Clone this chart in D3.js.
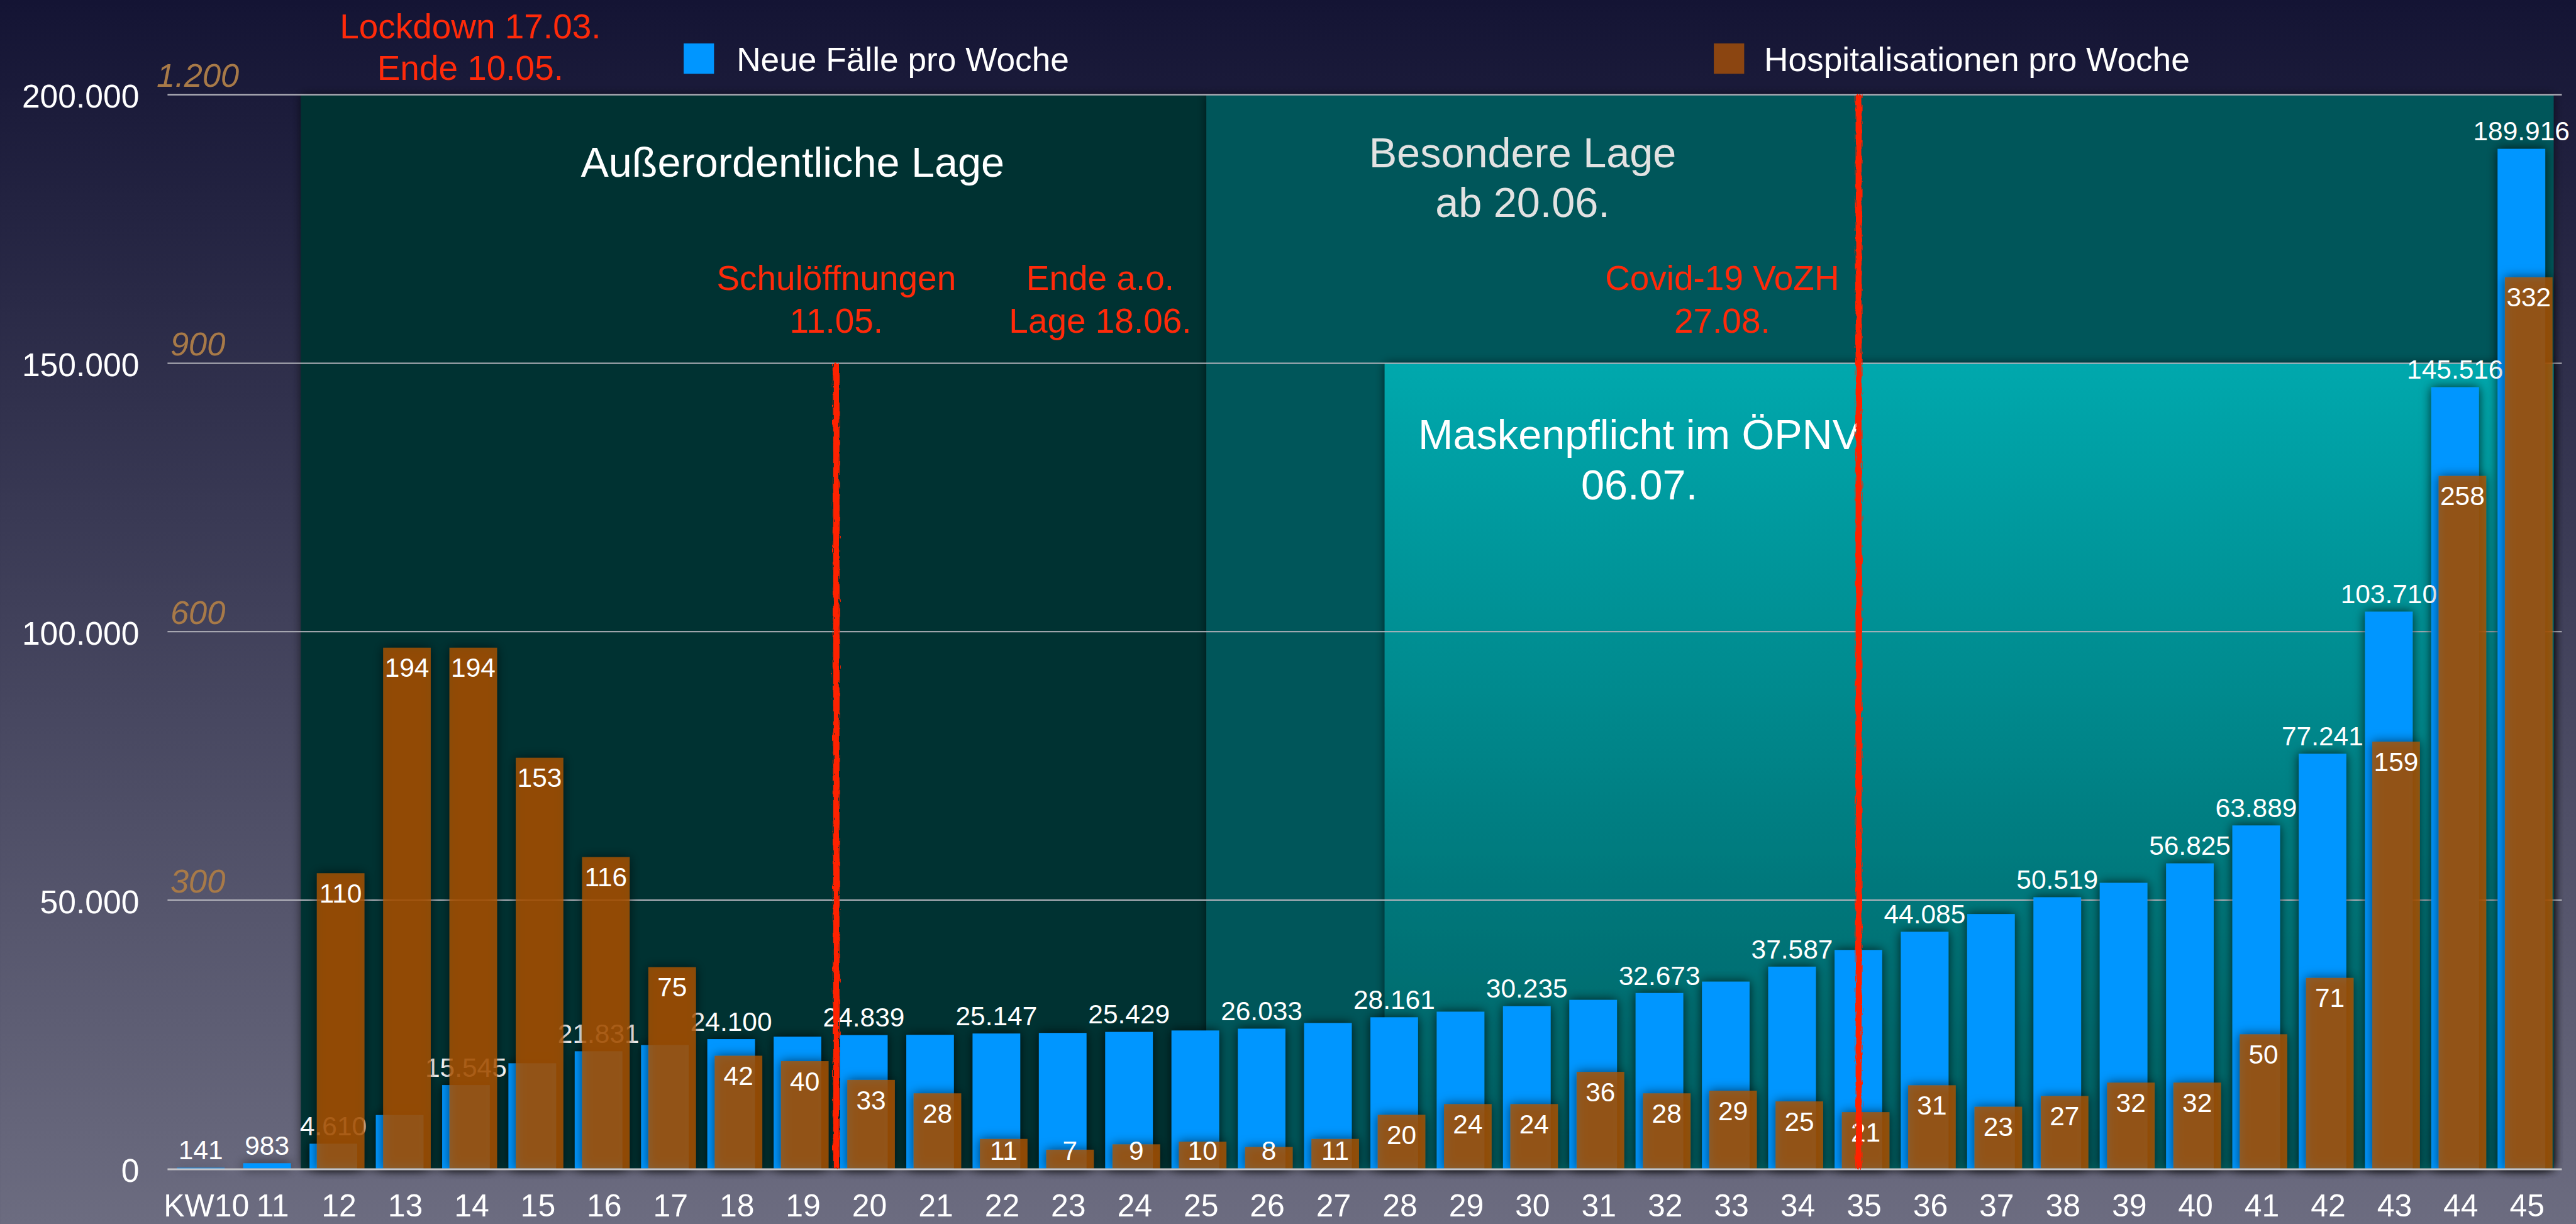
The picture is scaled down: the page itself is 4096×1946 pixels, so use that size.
<!DOCTYPE html>
<html>
<head>
<meta charset="utf-8">
<script src="https://cdn.jsdelivr.net/npm/d3@7"></script>
<style>
  html, body { margin: 0; padding: 0; background: #151535; overflow: hidden; }
  svg { display: block; font-family: "Liberation Sans", Arial, Helvetica, sans-serif; }
</style>
</head>
<body>
<div id="chart"></div>
<script>
// calendar weeks on the x axis
const weeks = ["KW10", "11", "12", "13", "14", "15", "16", "17", "18", "19", "20", "21",
  "22", "23", "24", "25", "26", "27", "28", "29", "30", "31", "32", "33", "34", "35",
  "36", "37", "38", "39", "40", "41", "42", "43", "44", "45"];

const newCases = [141, 983, 4610, 9950, 15545, 19600, 21831, 23000, 24100, 24550, 24839, 24900,
  25147, 25250, 25429, 25700, 26033, 27100, 28161, 29200, 30235, 31400, 32673, 34800, 37587, 40700,
  44085, 47400, 50519, 53200, 56825, 63889, 77241, 103710, 145516, 189916];

// brown series
const hospitalisations = [null, null, 110, 194, 194, 153, 116, 75, 42, 40, 33, 28,
  11, 7, 9, 10, 8, 11, 20, 24, 24, 36, 28, 29, 25, 21,
  31, 23, 27, 32, 32, 50, 71, 159, 258, 332];

// weeks whose blue value is printed
const labelledCaseWeeks = ["KW10", "11", "12", "14", "16", "18", "20", "22", "24", "26", "28",
  "30", "32", "34", "36", "38", "40", "41", "42", "43", "44", "45"];

const caseTicks = [0, 50000, 100000, 150000, 200000];
const hospTickLabels = ["", "300", "600", "900", "1.200"];
const seriesNames = ["Neue Fälle pro Woche", "Hospitalisationen pro Woche"];

const W = 4921, H = 2338;
const BLUE = "#0096ff";
const BROWN = "rgb(172,82,6)";
const BROWN_OP = 0.78;
const RED = "#ff2a0a";

const de = d3.formatLocale({ decimal: ",", thousands: ".", grouping: [3], currency: ["", ""] });
const fmt = de.format(",d");

const svg = d3.select("#chart").append("svg")
  .attr("width", 4096)
  .attr("height", 1946)
  .attr("viewBox", `0 0 ${W} ${H}`);

const defs = svg.append("defs");

const bgGrad = defs.append("linearGradient").attr("id", "bg")
  .attr("x1", 0).attr("y1", 0).attr("x2", 0).attr("y2", 1);
bgGrad.append("stop").attr("offset", "0%").attr("stop-color", "#141434");
bgGrad.append("stop").attr("offset", "100%").attr("stop-color", "#6c6c80");

const maskGrad = defs.append("linearGradient").attr("id", "maskGrad")
  .attr("x1", 0).attr("y1", 0).attr("x2", 0).attr("y2", 1);
maskGrad.append("stop").attr("offset", "0%").attr("stop-color", "#00a8ad");
maskGrad.append("stop").attr("offset", "100%").attr("stop-color", "#005e61");

function shadowFilter(id, blur, opacity) {
  defs.append("filter").attr("id", id)
    .attr("filterUnits", "userSpaceOnUse")
    .attr("x", 0).attr("y", 0).attr("width", W).attr("height", H)
    .append("feDropShadow")
    .attr("dx", 0).attr("dy", 0)
    .attr("stdDeviation", blur)
    .attr("flood-color", "#000")
    .attr("flood-opacity", opacity);
}
shadowFilter("panelShadow", 9, 0.6);
shadowFilter("barShadow", 10, 0.75);

// rough chalk look for the red marker lines
const chalk = defs.append("filter").attr("id", "chalk")
  .attr("filterUnits", "userSpaceOnUse")
  .attr("x", 0).attr("y", 0).attr("width", W).attr("height", H);
chalk.append("feTurbulence")
  .attr("type", "fractalNoise")
  .attr("baseFrequency", "0.6 0.05")
  .attr("numOctaves", 2)
  .attr("result", "noise");
chalk.append("feDisplacementMap")
  .attr("in", "SourceGraphic")
  .attr("in2", "noise")
  .attr("scale", 8)
  .attr("xChannelSelector", "R")
  .attr("yChannelSelector", "G");

svg.append("rect").attr("width", W).attr("height", H).attr("fill", "url(#bg)");

// scales
const x = d3.scaleBand().domain(weeks).range([331, 4891]).padding(0);
const step = x.step();
const pos = (f) => x.range()[0] + f * step;
const y = d3.scaleLinear().domain([0, 200000]).range([2232, 181]);
const yHosp = d3.scaleLinear().domain([0, 400]).range([2232, 181]);

const barW = step * 0.718;
const blueX = (w) => x(w) + step * 0.055;
const brownX = (w) => x(w) + step * 0.165;

// phase panels
const panels = [
  { from: 1.924, to: 15.58, top: 200000, fill: "#003133" },
  { from: 15.58, to: 35.9, top: 200000, fill: "#00565a" },
  { from: 18.27, to: 35.9, top: 150000, fill: "url(#maskGrad)" }
];

svg.append("g").selectAll("rect")
  .data(panels)
  .join("rect")
  .attr("x", (d) => pos(d.from))
  .attr("y", (d) => y(d.top))
  .attr("width", (d) => pos(d.to) - pos(d.from))
  .attr("height", (d) => y(0) - y(d.top))
  .attr("fill", (d) => d.fill)
  .attr("filter", "url(#panelShadow)");

// gridlines
svg.append("g").selectAll("line")
  .data(caseTicks.filter((t) => t > 0))
  .join("line")
  .attr("x1", 320).attr("x2", 4894)
  .attr("y1", (d) => y(d)).attr("y2", (d) => y(d))
  .attr("stroke", "#b4b4bc")
  .attr("stroke-width", 2.5);

// y axis labels
svg.append("g").selectAll("text")
  .data(caseTicks)
  .join("text")
  .attr("x", 266)
  .attr("y", (d) => y(d) + 25)
  .attr("text-anchor", "end")
  .attr("font-size", 62)
  .attr("fill", "#fff")
  .text((d) => fmt(d));

svg.append("g").selectAll("text")
  .data(caseTicks)
  .join("text")
  .attr("x", 378)
  .attr("y", (d) => y(d) - 15)
  .attr("text-anchor", "middle")
  .attr("font-size", 63)
  .attr("font-style", "italic")
  .attr("fill", "#a87a48")
  .text((d, i) => hospTickLabels[i]);

// text annotations for the phases
function multiLine(lines, f, baselines, size, color) {
  const t = svg.append("text")
    .attr("text-anchor", "middle")
    .attr("font-size", size)
    .attr("fill", color);
  lines.forEach((line, i) => {
    t.append("tspan").attr("x", pos(f)).attr("y", baselines[i]).text(line);
  });
}
multiLine(["Außerordentliche Lage"], 9.34, [338], 80, "#fff");
multiLine(["Besondere Lage", "ab 20.06."], 20.35, [319, 415], 80, "#e2e2e2");
multiLine(["Maskenpflicht im ÖPNV", "06.07."], 22.11, [858, 954], 80, "#fff");

// bars
const rows = weeks.map((w, i) => ({ week: w, cases: newCases[i], hosp: hospitalisations[i] }));

svg.append("g").attr("filter", "url(#barShadow)")
  .selectAll("rect")
  .data(rows)
  .join("rect")
  .attr("x", (d) => blueX(d.week))
  .attr("y", (d) => y(d.cases))
  .attr("width", barW)
  .attr("height", (d) => y(0) - y(d.cases))
  .attr("fill", BLUE);

svg.append("g").selectAll("text")
  .data(rows.filter((d) => labelledCaseWeeks.includes(d.week)))
  .join("text")
  .attr("x", (d) => blueX(d.week) + barW / 2)
  .attr("y", (d) => y(d.cases) - 16)
  .attr("text-anchor", "middle")
  .attr("font-size", 51)
  .attr("fill", "#fff")
  .text((d) => fmt(d.cases));

const hospRows = rows.filter((d) => d.hosp !== null);

svg.append("g").attr("filter", "url(#barShadow)")
  .selectAll("rect")
  .data(hospRows)
  .join("rect")
  .attr("x", (d) => brownX(d.week))
  .attr("y", (d) => yHosp(d.hosp))
  .attr("width", barW)
  .attr("height", (d) => yHosp(0) - yHosp(d.hosp))
  .attr("fill", BROWN)
  .attr("fill-opacity", BROWN_OP);

svg.append("g").selectAll("text")
  .data(hospRows)
  .join("text")
  .attr("x", (d) => brownX(d.week) + barW / 2)
  .attr("y", (d) => Math.min(yHosp(d.hosp) + 56, yHosp(0) - 16))
  .attr("text-anchor", "middle")
  .attr("font-size", 51)
  .attr("fill", "#fff")
  .text((d) => fmt(d.hosp));

// x axis
svg.append("line")
  .attr("x1", 320).attr("x2", 4894)
  .attr("y1", y(0) + 1.5).attr("y2", y(0) + 1.5)
  .attr("stroke", "#c4c4c8")
  .attr("stroke-width", 3.5);

svg.append("g").selectAll("text")
  .data(weeks)
  .join("text")
  .attr("x", (d) => x(d) + step / 2)
  .attr("y", 2323)
  .attr("text-anchor", "middle")
  .attr("font-size", 60)
  .attr("fill", "#fff")
  .text((d) => d);

// legend
const legendX = [1306, 3274];
const legend = svg.append("g").selectAll("g")
  .data(seriesNames)
  .join("g")
  .attr("transform", (d, i) => `translate(${legendX[i]},83)`);
legend.append("rect")
  .attr("width", 58).attr("height", 58)
  .attr("fill", (d, i) => (i === 0 ? BLUE : BROWN))
  .attr("fill-opacity", (d, i) => (i === 0 ? 1 : BROWN_OP));
legend.append("text")
  .attr("x", (d, i) => (i === 0 ? 101 : 96))
  .attr("y", 53)
  .attr("font-size", 64)
  .attr("fill", "#fff")
  .text((d) => d);

// red event markers
multiLine(["Lockdown 17.03.", "Ende 10.05."], 4.48, [73, 153], 66, RED);
multiLine(["Schulöffnungen", "11.05."], 10.0, [554, 635], 66, RED);
multiLine(["Ende a.o.", "Lage 18.06."], 13.98, [554, 635], 66, RED);
multiLine(["Covid-19 VoZH", "27.08."], 23.36, [554, 635], 66, RED);

const markers = [
  { at: 10.0, top: 150000 },
  { at: 25.42, top: 200000 }
];
svg.append("g").attr("filter", "url(#chalk)")
  .selectAll("rect")
  .data(markers)
  .join("rect")
  .attr("x", (d) => pos(d.at) - 6)
  .attr("y", (d) => y(d.top))
  .attr("width", 12)
  .attr("height", (d) => y(0) - y(d.top))
  .attr("fill", "#ff2200");
</script>
</body>
</html>
